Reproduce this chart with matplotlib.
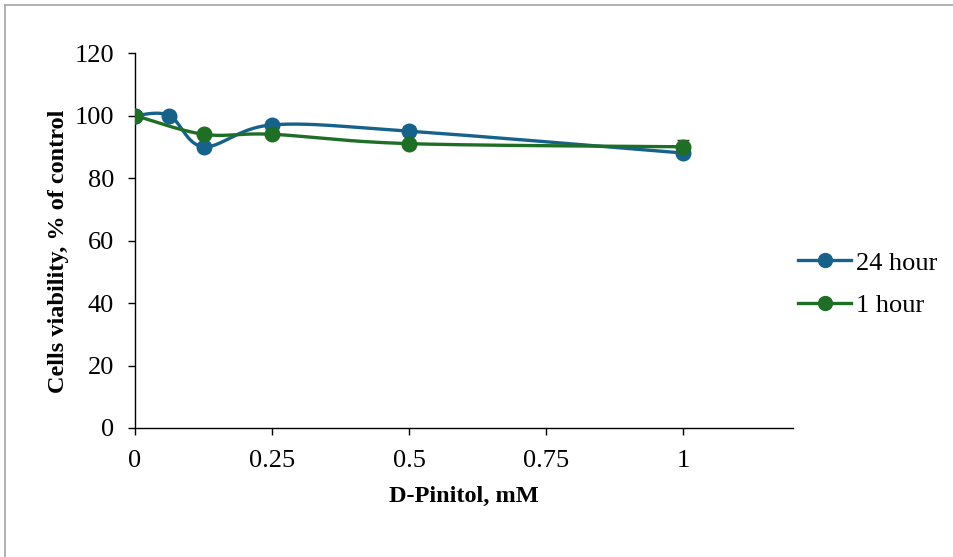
import matplotlib.pyplot as plt
import numpy as np
from matplotlib.lines import Line2D

plt.rcParams['font.family'] = ['Liberation Serif', 'DejaVu Serif']

# concentrations (mM) and viability (% of control)
dose_24h = [0, 0.0625, 0.125, 0.25, 0.5, 1]
viab_24h = [100, 100, 90, 97, 95, 88]
err_24h = [0.5, 0.8, 0.8, 0.8, 1.5, 0.8]

dose_1h = [0, 0.125, 0.25, 0.5, 1]
viab_1h = [100, 94, 94, 91, 90]
err_1h = [0.5, 1.5, 0.8, 0.8, 2.2]

x_ticks = [0, 0.25, 0.5, 0.75, 1]
x_tick_labels = ['0', '0.25', '0.5', '0.75', '1']

BLUE = '#17628a'
GREEN = '#1f6e26'


def smooth(xs, ys, n=40):
    # Catmull-Rom style bezier through the points, like a spreadsheet smoothed line
    xs = np.asarray(xs, float)
    ys = np.asarray(ys, float)
    px = np.concatenate([[xs[0]], xs, [xs[-1]]])
    py = np.concatenate([[ys[0]], ys, [ys[-1]]])
    outx, outy = [], []
    t = np.linspace(0, 1, n)
    for i in range(1, len(px) - 2):
        p0 = np.array([px[i], py[i]])
        p3 = np.array([px[i + 1], py[i + 1]])
        p1 = p0 + (np.array([px[i + 1], py[i + 1]]) - np.array([px[i - 1], py[i - 1]])) / 6
        p2 = p3 - (np.array([px[i + 2], py[i + 2]]) - np.array([px[i], py[i]])) / 6
        b = ((1 - t) ** 3)[:, None] * p0 + (3 * (1 - t) ** 2 * t)[:, None] * p1 \
            + (3 * (1 - t) * t ** 2)[:, None] * p2 + (t ** 3)[:, None] * p3
        outx.extend(b[:, 0])
        outy.extend(b[:, 1])
    return outx, outy


fig = plt.figure(figsize=(9.54, 5.57), dpi=100)
ax = fig.add_axes([0.1415, 0.2316, 0.6895, 0.6732])

for xs, ys, es, c in [(dose_24h, viab_24h, err_24h, BLUE), (dose_1h, viab_1h, err_1h, GREEN)]:
    sx, sy = smooth(xs, ys)
    ax.plot(sx, sy, color=c, lw=2.4, zorder=3)
    ax.errorbar(xs, ys, yerr=es, fmt='none', ecolor='#333333', elinewidth=1, capsize=4, zorder=2)
    ax.plot(xs, ys, 'o', color=c, ms=10.5, zorder=4)

ax.set_xlim(0, 1.2)
ax.set_ylim(0, 120)
ax.set_xticks(x_ticks)
ax.set_xticklabels(x_tick_labels)
ax.set_yticks(range(0, 121, 20))
ax.tick_params(labelsize=19, length=5, width=1, colors='black')
ax.tick_params(axis='y', pad=10)
ax.tick_params(axis='x', pad=11)
for s in ['top', 'right']:
    ax.spines[s].set_visible(False)
for s in ['left', 'bottom']:
    ax.spines[s].set_linewidth(1)

ax.set_xlabel('D-Pinitol, mM', fontsize=17.5, fontweight='bold', labelpad=10)
ax.set_ylabel('Cells viability, % of control', fontsize=17.5, fontweight='bold')
ax.yaxis.set_label_coords(-0.1, 0.47)

handles = [Line2D([], [], color=BLUE, lw=2.4, marker='o', ms=10),
           Line2D([], [], color=GREEN, lw=2.4, marker='o', ms=10)]
fig.legend(handles, ['24 hour', '1 hour'], loc='center left', bbox_to_anchor=(0.812, 0.49),
           frameon=False, fontsize=19, handlelength=2.0, labelspacing=0.72, handletextpad=0.2)

# frame lines along the top and left edge
fig.add_artist(Line2D([0.005, 0.005], [0, 0.991], color='#a6a6a6', lw=1.2, transform=fig.transFigure))
fig.add_artist(Line2D([0.005, 1], [0.991, 0.991], color='#a6a6a6', lw=1.2, transform=fig.transFigure))

fig.savefig('out.png', dpi=100)
